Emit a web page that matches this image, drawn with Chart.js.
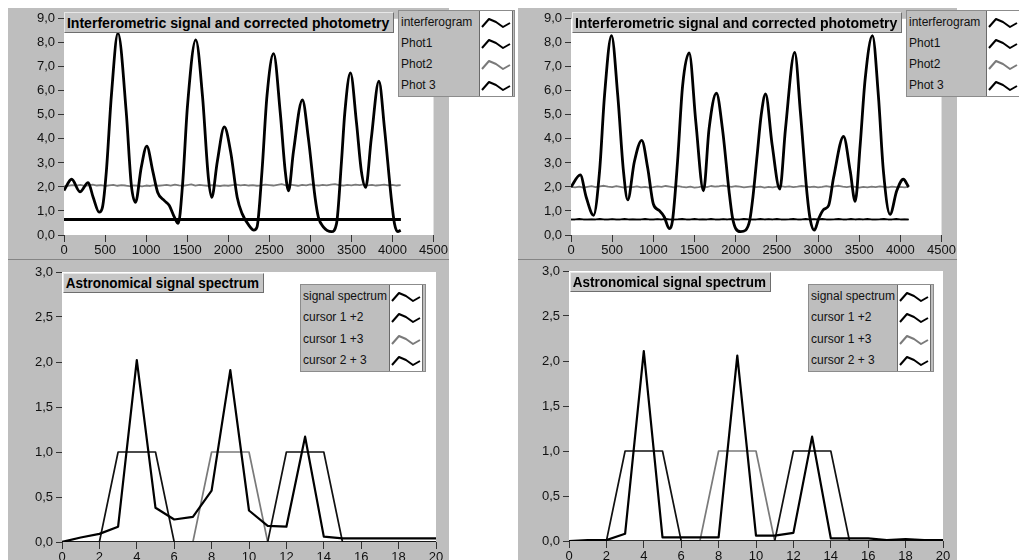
<!DOCTYPE html>
<html>
<head>
<meta charset="utf-8">
<script src="https://cdn.jsdelivr.net/npm/chart.js@4/dist/chart.umd.min.js"></script>
<style>
  body { margin: 0; width: 1019px; height: 560px; overflow: hidden; background: #fff; position: relative;
         font-family: "Liberation Sans", Arial, sans-serif; }
  .panel { position: absolute; background: #bebebe; }
  .panel canvas { display: block; }
  .top { border-bottom: 1px solid #858585; }
  .title { position: absolute; background: #c6c6c6; border: 1px solid #6e6e6e; border-top-color: #e8e8e8;
           border-left-color: #e8e8e8; font-weight: bold; color: #000; white-space: nowrap; overflow: hidden; }
  .title span { display: inline-block; transform-origin: 0 50%; padding-left: 2px; }
  .legend { position: absolute; background: #bebebe; border: 1px solid #8c8c8c; display: flex; font-size: 12px; color: #111; }
  .legend .icons { background: #fff; border: 1px solid #6a6a6a; border-top: none; border-bottom: none; }
  .legend .row { display: flex; align-items: center; padding-left: 2px; }
  .legend .icons .row { justify-content: center; padding: 0; }
</style>
</head>
<body>
<div class="panel top" style="left:8px;top:8px;width:441px;height:251px"><canvas id="ifgLeft" width="441" height="251"></canvas></div>
<div class="panel top" style="left:518px;top:8px;width:439px;height:251px"><canvas id="ifgRight" width="439" height="251"></canvas></div>
<div class="panel" style="left:8px;top:260px;width:441px;height:300px"><canvas id="specLeft" width="441" height="310"></canvas></div>
<div class="panel" style="left:518px;top:260px;width:439px;height:300px"><canvas id="specRight" width="439" height="310"></canvas></div>

<div class="title" style="left:64px;top:12px;width:328px;height:19px;font-size:15px;line-height:19px"><span>Interferometric signal and corrected photometry</span></div>
<div class="title" style="left:572px;top:12px;width:328px;height:19px;font-size:15px;line-height:19px"><span>Interferometric signal and corrected photometry</span></div>
<div class="title" style="left:63px;top:273px;width:199px;height:18px;font-size:15px;line-height:18px"><span>Astronomical signal spectrum</span></div>
<div class="title" style="left:570px;top:272px;width:199px;height:18px;font-size:15px;line-height:18px"><span>Astronomical signal spectrum</span></div>

<div id="legTL" class="legend" style="left:398px;top:10px;width:115px;height:85px"></div>
<div id="legTR" class="legend" style="left:906px;top:10px;width:115px;height:85px"></div>
<div id="legBL" class="legend" style="left:300px;top:284px;width:124px;height:86px"></div>
<div id="legBR" class="legend" style="left:808px;top:284px;width:124px;height:86px"></div>

<script>
// interferograms (x = optical path sample, y = signal)
const ifgLeftX = [0, 93, 194, 294, 355, 428, 468, 516, 577, 657, 758, 819, 871, 940, 1008, 1081, 1141, 1222, 1282, 1343,
  1391, 1444, 1504, 1605, 1686, 1758, 1799, 1867, 1952, 2029, 2109, 2169, 2250, 2311, 2351, 2411, 2472, 2552, 2633, 2694,
  2734, 2794, 2903, 2976, 3057, 3097, 3157, 3258, 3319, 3379, 3420, 3488, 3561, 3621, 3674, 3742, 3835, 3903, 3984, 4024,
  4065, 4100];
const ifgLeftY = [1.85, 2.32, 1.80, 2.18, 1.57, 0.95, 1.15, 2.66, 5.80, 8.40, 5.11, 2.11, 1.36, 2.80, 3.70, 2.66, 1.77, 1.43, 1.23, 0.75,
  0.48, 2.11, 5.39, 8.12, 5.80, 2.39, 1.57, 3.06, 4.50, 3.47, 1.57, 0.89, 0.41, 0.20, 0.34, 2.66, 5.80, 7.55, 5.11, 2.66,
  1.84, 3.47, 5.62, 4.02, 1.57, 0.75, 0.34, 0.14, 0.48, 3.06, 5.11, 6.75, 4.70, 2.66, 1.98, 4.02, 6.40, 4.43, 1.57, 0.48,
  0.14, 0.20];

const ifgRightX = [0, 113, 185, 274, 347, 407, 492, 568, 637, 689, 770, 859, 931, 1000, 1072, 1133, 1193, 1233, 1294, 1355,
  1435, 1516, 1609, 1677, 1766, 1839, 1919, 1960, 2000, 2060, 2120, 2170, 2210, 2260, 2310, 2363, 2443, 2536, 2605, 2717,
  2786, 2867, 2907, 2955, 3008, 3068, 3129, 3189, 3310, 3391, 3451, 3512, 3572, 3661, 3733, 3794, 3875, 3956, 4036, 4100];
const ifgRightY = [2.00, 2.50, 1.57, 0.82, 2.66, 5.80, 8.30, 5.80, 2.66, 1.46, 3.06, 3.94, 2.80, 1.29, 1.02, 0.75, 0.27, 0.61, 3.06, 6.20,
  7.58, 4.70, 1.84, 4.43, 5.90, 4.43, 1.84, 0.75, 0.27, 0.14, 0.20, 0.60, 1.60, 3.30, 5.00, 5.87, 3.75, 1.91, 4.43, 7.60,
  5.11, 1.70, 0.61, 0.20, 0.68, 1.06, 1.23, 2.39, 4.10, 2.66, 1.40, 3.75, 6.48, 8.30, 5.80, 2.66, 0.86, 1.84, 2.32, 2.00];

// photometry channels, one sample every 50 steps from 0 to 4100
const photStep = 50;
const phot2Left = [2.02, 2.05, 2.08, 2.06, 2.09, 2.05, 2.07, 2.10, 2.06, 2.08,
  2.04, 2.07, 2.09, 2.05, 2.08, 2.06, 2.03, 2.07, 2.05, 2.02,
  2.06, 2.04, 2.08, 2.05, 2.07, 2.09, 2.06, 2.10, 2.07, 2.05,
  2.08, 2.11, 2.06, 2.09, 2.07, 2.05, 2.08, 2.06, 2.04, 2.07,
  2.05, 2.08, 2.10, 2.07, 2.09, 2.06, 2.08, 2.05, 2.07, 2.10,
  2.08, 2.06, 2.09, 2.12, 2.07, 2.10, 2.08, 2.05, 2.09, 2.07,
  2.11, 2.08, 2.06, 2.09, 2.07, 2.10, 2.12, 2.08, 2.06, 2.09,
  2.07, 2.10, 2.08, 2.11, 2.07, 2.09, 2.06, 2.08, 2.10, 2.07,
  2.09, 2.06, 2.08];
const phot2Right = [2.00, 1.98, 2.01, 1.97, 2.00, 2.03, 1.99, 2.02, 2.05, 2.01,
  1.99, 2.03, 2.00, 1.97, 2.01, 1.99, 2.02, 1.98, 2.00, 1.97,
  1.99, 2.02, 2.00, 2.04, 2.01, 1.98, 2.03, 2.00, 1.98, 2.01,
  1.97, 1.99, 2.02, 1.99, 2.04, 2.01, 2.03, 2.06, 2.02, 2.00,
  2.03, 2.01, 1.98, 2.00, 2.02, 1.99, 2.01, 1.97, 2.00, 1.98,
  2.01, 2.03, 2.00, 2.02, 1.99, 2.01, 2.04, 2.02, 1.99, 2.01,
  1.98, 2.00, 2.03, 2.00, 2.02, 2.05, 2.01, 1.99, 2.02, 2.00,
  1.97, 2.00, 1.98, 2.01, 1.99, 2.02, 2.00, 1.98, 2.01, 1.99,
  2.00, 1.98, 2.00];
const phot1Right = [0.65, 0.65, 0.68, 0.65, 0.65, 0.66, 0.65, 0.68, 0.65, 0.65,
  0.67, 0.65, 0.65, 0.68, 0.65, 0.66, 0.65, 0.65, 0.68, 0.65,
  0.65, 0.67, 0.65, 0.68, 0.65, 0.65, 0.66, 0.68, 0.65, 0.65,
  0.68, 0.65, 0.66, 0.65, 0.68, 0.65, 0.65, 0.67, 0.65, 0.68,
  0.65, 0.65, 0.68, 0.66, 0.65, 0.65, 0.68, 0.65, 0.67, 0.65,
  0.68, 0.65, 0.65, 0.66, 0.68, 0.65, 0.65, 0.68, 0.65, 0.67,
  0.65, 0.68, 0.65, 0.65, 0.66, 0.68, 0.65, 0.65, 0.68, 0.65,
  0.67, 0.65, 0.68, 0.65, 0.65, 0.66, 0.68, 0.65, 0.65, 0.68,
  0.65, 0.66, 0.65];
const photFlatX = [0, 4100];
const phot1Left = [0.65, 0.65];
const phot3Left = [0.65, 0.65];
const phot3Right = [0.65, 0.65];

// spectra, one value per spectral bin 0..20
const bins = [0, 1, 2, 3, 4, 5, 6, 7, 8, 9, 10, 11, 12, 13, 14, 15, 16, 17, 18, 19, 20];
const spectrumLeft = [0, 0.05, 0.09, 0.17, 2.02, 0.38, 0.25, 0.28, 0.57, 1.91, 0.35, 0.18, 0.17, 1.17, 0.06, 0.04, 0.04, 0.04, 0.04, 0.04, 0.04];
const spectrumRight = [0, 0.01, 0.01, 0.08, 2.11, 0.04, 0.04, 0.04, 0.04, 2.06, 0.06, 0.06, 0.09, 1.16, 0.03, 0.03, 0.03, 0.01, 0.02, 0.01, 0.01];
const cursor12 = [0, 0, 0, 1, 1, 1, 0, 0, 0, 0, 0, 0, 0, 0, 0, 0, 0, 0, 0, 0, 0];
const cursor13 = [0, 0, 0, 0, 0, 0, 0, 0, 1, 1, 1, 0, 0, 0, 0, 0, 0, 0, 0, 0, 0];
const cursor23 = [0, 0, 0, 0, 0, 0, 0, 0, 0, 0, 0, 0, 1, 1, 1, 0, 0, 0, 0, 0, 0];

const ifgLegend = ['interferogram', 'Phot1', 'Phot2', 'Phot 3'];
const specLegend = ['signal spectrum', 'cursor 1 +2', 'cursor 1 +3', 'cursor 2 + 3'];
const ifgColors = ['#000', '#000', '#7a7a7a', '#000'];
const specColors = ['#000', '#000', '#7a7a7a', '#000'];

const pairs = (xs, ys) => ys.map((y, i) => ({ x: xs[i], y }));
const stepped = ys => ys.map((y, i) => ({ x: i * photStep, y }));

// white plot area on the grey panel
const plotBg = {
  id: 'plotBg',
  beforeDraw(chart) {
    const { ctx, chartArea: a } = chart;
    ctx.save();
    ctx.fillStyle = '#fff';
    ctx.fillRect(a.left, a.top, a.right - a.left, a.bottom - a.top);
    ctx.restore();
  }
};

const tickFont = { family: 'Liberation Sans', size: 13 };
const comma = v => v.toFixed(1).replace('.', ',');
const plain = v => String(v);

function makeChart(id, datasets, ax, pad) {
  return new Chart(document.getElementById(id), {
    type: 'line',
    data: { datasets },
    options: {
      responsive: false,
      animation: false,
      layout: { padding: { top: pad.top, right: pad.right, left: 0, bottom: 0 } },
      plugins: { legend: { display: false }, tooltip: { enabled: false } },
      elements: { point: { radius: 0 }, line: { borderJoinStyle: 'round' } },
      scales: {
        x: {
          type: 'linear', min: 0, max: ax.xMax,
          ticks: { stepSize: ax.xStep, font: tickFont, color: '#111', padding: 1, maxRotation: 0, autoSkip: false, callback: plain },
          grid: { drawOnChartArea: false, tickLength: 7, color: '#333' },
          border: { display: false },
          afterFit: s => { s.height = pad.xh; }
        },
        y: {
          min: 0, max: ax.yMax,
          ticks: { stepSize: ax.yStep, font: tickFont, color: '#111', padding: 3, callback: comma },
          grid: { drawOnChartArea: false, tickLength: 6, color: '#333' },
          border: { display: false },
          afterFit: s => { s.width = pad.yw; }
        }
      }
    },
    plugins: [plotBg]
  });
}

const ifgAxes = { xMax: 4500, xStep: 500, yMax: 9, yStep: 1 };
const specAxes = { xMax: 20, xStep: 2, yMax: 3, yStep: 0.5 };

makeChart('ifgLeft', [
  { data: pairs(ifgLeftX, ifgLeftY), borderColor: '#000', borderWidth: 2.8, cubicInterpolationMode: 'monotone' },
  { data: pairs(photFlatX, phot1Left), borderColor: '#000', borderWidth: 3 },
  { data: pairs(photFlatX, phot3Left), borderColor: '#000', borderWidth: 3 },
  { data: stepped(phot2Left), borderColor: '#7a7a7a', borderWidth: 1.8 }
], ifgAxes, { top: 7, right: 13, xh: 24, yw: 56 });

makeChart('ifgRight', [
  { data: pairs(ifgRightX, ifgRightY), borderColor: '#000', borderWidth: 2.8, cubicInterpolationMode: 'monotone' },
  { data: stepped(phot1Right), borderColor: '#000', borderWidth: 1.5 },
  { data: pairs(photFlatX, phot3Right), borderColor: '#000', borderWidth: 1.5 },
  { data: stepped(phot2Right), borderColor: '#7a7a7a', borderWidth: 1.8 }
], ifgAxes, { top: 7, right: 14, xh: 24, yw: 53 });

makeChart('specLeft', [
  { data: pairs(bins, spectrumLeft), borderColor: '#000', borderWidth: 2.2 },
  { data: pairs(bins, cursor12), borderColor: '#111', borderWidth: 1.7 },
  { data: pairs(bins, cursor23), borderColor: '#111', borderWidth: 1.7 },
  { data: pairs(bins, cursor13), borderColor: '#7a7a7a', borderWidth: 1.7 }
], specAxes, { top: 12, right: 13, xh: 28, yw: 54 });

makeChart('specRight', [
  { data: pairs(bins, spectrumRight), borderColor: '#000', borderWidth: 2.2 },
  { data: pairs(bins, cursor12), borderColor: '#111', borderWidth: 1.7 },
  { data: pairs(bins, cursor23), borderColor: '#111', borderWidth: 1.7 },
  { data: pairs(bins, cursor13), borderColor: '#7a7a7a', borderWidth: 1.7 }
], specAxes, { top: 11, right: 14, xh: 29, yw: 51 });

// LabVIEW-style legends: names on grey, line samples in a white box
function legend(id, names, colors, nameW, rowH) {
  const el = document.getElementById(id);
  const icon = c => '<svg width="30" height="14"><polyline points="1,12 8,4 15,7 22,12 29,8" fill="none" stroke="' + c + '" stroke-width="2" stroke-linejoin="round"/></svg>';
  el.innerHTML =
    '<div style="flex:0 0 ' + nameW + 'px">' + names.map(n => '<div class="row" style="height:' + rowH + 'px">' + n + '</div>').join('') + '</div>' +
    '<div class="icons" style="width:32px">' + colors.map(c => '<div class="row" style="height:' + rowH + 'px">' + icon(c) + '</div>').join('') + '</div>';
}
legend('legTL', ifgLegend, ifgColors, 80, 21);
legend('legTR', ifgLegend, ifgColors, 79, 21);
legend('legBL', specLegend, specColors, 88, 21.5);
legend('legBR', specLegend, specColors, 88, 21.5);

// squeeze title text into its box
document.querySelectorAll('.title span').forEach(s => {
  const box = s.parentElement.clientWidth - 4;
  s.style.transform = 'scaleX(' + Math.min(1, box / s.offsetWidth) + ')';
});
</script>
</body>
</html>
